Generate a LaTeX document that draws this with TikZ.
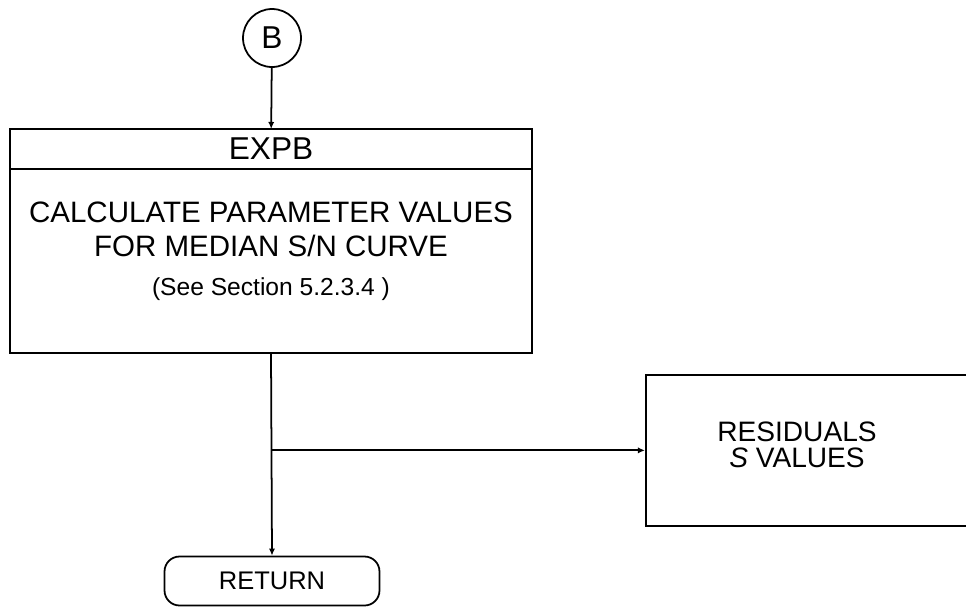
\documentclass[tikz,border=0pt]{standalone}
\usepackage{fontspec}
\setmainfont{Liberation Sans}
\usetikzlibrary{arrows.meta,positioning}

\begin{document}
\begin{tikzpicture}[
        x=0.02cm, y=-0.02cm,
        every node/.style={font=\fontsize{16}{19.4}\selectfont},
        box/.style={draw, line width=1pt, minimum width=10.44cm, inner sep=0pt, outer sep=0pt},
        arr/.style={-{Latex[length=4pt,width=3.5pt]}, line width=1pt}
    ]
    \useasboundingbox (0,0) rectangle (966,606);
    \node[draw, circle, line width=1pt, minimum size=1.16cm, inner sep=0pt, font=\fontsize{18}{20}\selectfont] (conB) at (272,38) {B};
    \node[box, minimum height=0.8cm, font=\fontsize{18}{20}\selectfont] (expb) at (271,149) {EXPB};
    \node[box, minimum height=3.68cm, below=0pt of expb] (calc) {};
    \node[align=center, font=\fontsize{16.8}{19.3}\selectfont] (calctext) at (271,251) {CALCULATE PARAMETER VALUES\\ FOR MEDIAN S/N CURVE\\[3pt] {\fontsize{14}{17}\selectfont (See Section 5.2.3.4 )}};
    \node[draw, line width=1pt, minimum width=6.9cm, minimum height=3.02cm, anchor=north west, inner sep=0pt] (resid) at (645,374) {};
    \node[align=center, font=\fontsize{16}{14.6}\selectfont] (residtext) at (797,445) {RESIDUALS\\ \textit{S} VALUES};
    \node[draw, line width=1pt, rounded corners=0.3cm, minimum width=4.3cm, minimum height=0.98cm, font=\fontsize{14.5}{17}\selectfont] (ret) at (272,581) {RETURN};
    \coordinate (junc) at (calc.south |- resid.west);

    \draw[arr] (conB) -- (expb);
    \draw[arr] (calc.south) -- (ret.north);
    \draw[arr] (junc) -- (resid.west);
\end{tikzpicture}
\end{document}
